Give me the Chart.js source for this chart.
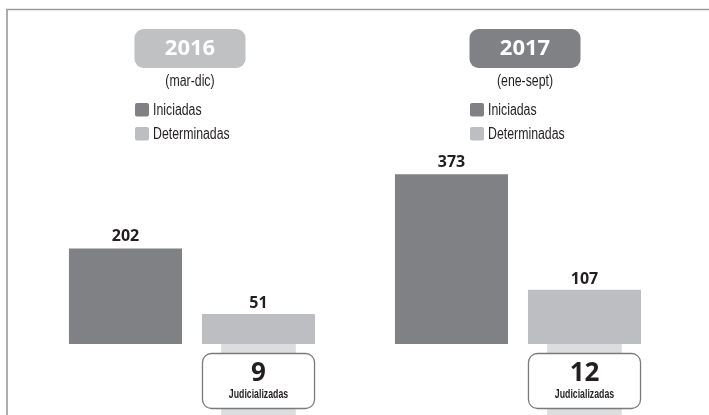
<!DOCTYPE html>
<html>
<head>
<meta charset="utf-8">
<script src="https://cdn.jsdelivr.net/npm/chart.js@4/dist/chart.umd.min.js"></script>
<style>
    html, body { margin: 0; padding: 0; background: #fff; }
    #wrap { position: relative; width: 709px; height: 415px; }
</style>
</head>
<body>
<div id="wrap"><canvas id="chart" width="709" height="415"></canvas></div>
<script>
const years = ["2016", "2017"];
const periods = ["(mar-dic)", "(ene-sept)"];
const iniciadas = [202, 373];
const determinadas = [51, 107];
const judicializadas = [9, 12];
const seriesNames = ["Iniciadas", "Determinadas"];

const darkGray = "#808184";
const lightGray = "#bdbec1";
const stripGray = "#dcdddf";
const pillColors = ["#c0c1c3", "#808184"];
const headerShift = [-2, 7];   // small nudge of the year headers
const sans = '"Liberation Sans", Arial, sans-serif';
const bold = '"Open Sans", sans-serif';

function roundRect(ctx, x, y, w, h, r) {
    ctx.beginPath();
    ctx.moveTo(x + r, y);
    ctx.arcTo(x + w, y, x + w, y + h, r);
    ctx.arcTo(x + w, y + h, x, y + h, r);
    ctx.arcTo(x, y + h, x, y, r);
    ctx.arcTo(x, y, x + w, y, r);
    ctx.closePath();
}

// condensed text: squeeze a normal sans horizontally
function narrowText(ctx, text, x, y, font, align, squeeze) {
    ctx.save();
    ctx.translate(x, y);
    ctx.scale(squeeze || 0.82, 1);
    ctx.font = font;
    ctx.textAlign = align;
    ctx.fillText(text, 0, 0);
    ctx.restore();
}

const decor = {
    id: "decor",
    beforeDraw(chart) {
        const ctx = chart.ctx;
        ctx.save();
        ctx.strokeStyle = "#9a9a9a";
        ctx.lineWidth = 1.6;
        ctx.beginPath();
        ctx.moveTo(7, 415);
        ctx.lineTo(7, 9.5);
        ctx.lineTo(709, 9.5);
        ctx.stroke();
        ctx.restore();
    },
    afterDatasetsDraw(chart) {
        const ctx = chart.ctx;
        const x = chart.scales.x;
        const ini = chart.getDatasetMeta(0).data;
        const det = chart.getDatasetMeta(1).data;
        ctx.save();

        years.forEach((yr, i) => {
            const hx = x.getPixelForValue(i) + headerShift[i];

            // year pill
            ctx.fillStyle = pillColors[i];
            roundRect(ctx, hx - 55.5, 29, 111, 39, 9);
            ctx.fill();
            ctx.fillStyle = "#fff";
            ctx.font = "bold 22px " + bold;
            ctx.textAlign = "center";
            ctx.textBaseline = "middle";
            ctx.fillText(yr, hx, 49);

            ctx.fillStyle = "#231f20";
            narrowText(ctx, periods[i], hx, 82, "16px " + sans, "center", 0.77);

            // legend
            [darkGray, lightGray].forEach((col, k) => {
                const ly = 103 + k * 24;
                ctx.fillStyle = col;
                roundRect(ctx, hx - 55, ly, 14, 13.5, 2);
                ctx.fill();
                ctx.fillStyle = "#231f20";
                narrowText(ctx, seriesNames[k], hx - 37, ly + 7.5, "16px " + sans, "left", 0.77);
            });

            // value labels
            ctx.textAlign = "center";
            ctx.textBaseline = "alphabetic";
            ctx.font = "bold 16px " + bold;
            ctx.fillStyle = "#231f20";
            ctx.fillText(iniciadas[i], ini[i].x, ini[i].y - 7);
            ctx.fillText(determinadas[i], det[i].x, det[i].y - 6);

            // judicializadas strip + box under the determinadas bar
            const b = det[i];
            const base = b.base;
            ctx.fillStyle = stripGray;
            ctx.fillRect(b.x - b.width * 0.33, base, b.width * 0.66, 415 - base);

            roundRect(ctx, b.x - b.width / 2 + 0.5, base + 9.5, b.width - 1, 55, 9);
            ctx.fillStyle = "#fff";
            ctx.fill();
            ctx.strokeStyle = "#7a7a7a";
            ctx.lineWidth = 1.3;
            ctx.stroke();

            ctx.fillStyle = "#231f20";
            ctx.textBaseline = "middle";
            ctx.textAlign = "center";
            ctx.font = "bold 26px " + bold;
            ctx.fillText(judicializadas[i], b.x, base + 30);
            narrowText(ctx, "Judicializadas", b.x, base + 51, "bold 12.5px " + sans, "center", 0.7);
        });
        ctx.restore();
    }
};

new Chart(document.getElementById("chart"), {
    type: "bar",
    data: {
        labels: years,
        datasets: [
            { label: seriesNames[0], data: iniciadas, backgroundColor: darkGray, base: -18 },
            { label: seriesNames[1], data: determinadas, backgroundColor: lightGray, base: -18 }
        ]
    },
    options: {
        responsive: false,
        animation: false,
        categoryPercentage: 0.816,
        barPercentage: 0.85,
        layout: { padding: { left: 29, right: 28, top: 159, bottom: 71 } },
        plugins: {
            legend: { display: false },
            tooltip: { enabled: false }
        },
        scales: {
            x: { display: false },
            y: { display: false, min: -18, max: 408 }
        }
    },
    plugins: [decor]
});
</script>
</body>
</html>
